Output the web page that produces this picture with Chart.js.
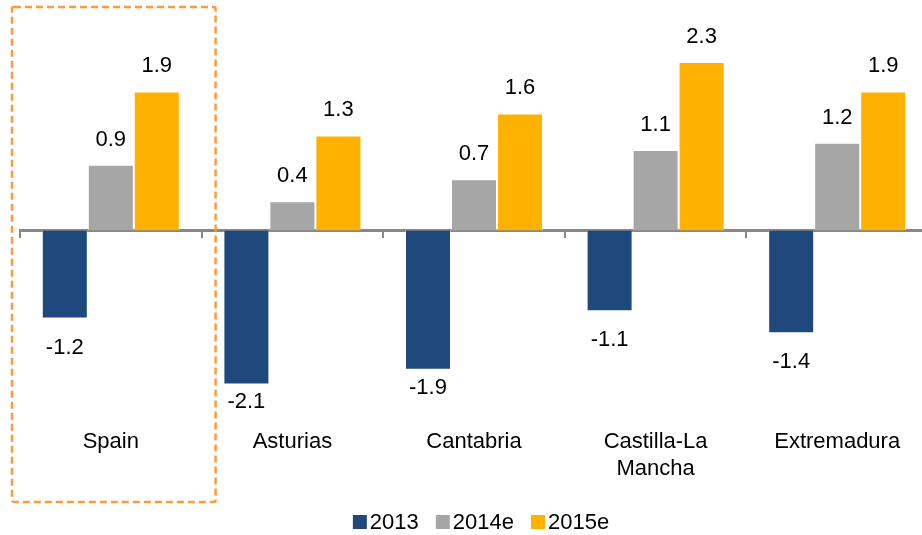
<!DOCTYPE html>
<html>
<head>
<meta charset="utf-8">
<script src="https://cdn.jsdelivr.net/npm/chart.js@4"></script>
<style>
    html, body { margin: 0; padding: 0; background: #fff; overflow: hidden; }
    .chart-wrap { width: 928px; height: 535px; position: relative; }
</style>
</head>
<body>
<div class="chart-wrap"><canvas id="barChart"></canvas></div>
<script>
'use strict';

// Data
const regions = ['Spain', 'Asturias', 'Cantabria', ['Castilla-La', 'Mancha'], 'Extremadura'];
const seriesNames = ['2013', '2014e', '2015e'];
const values2013 = [-1.2, -2.1, -1.9, -1.1, -1.4];
const values2014e = [0.9, 0.4, 0.7, 1.1, 1.2];
const values2015e = [1.9, 1.3, 1.6, 2.3, 1.9];

(function () {
    // Color Variables
    const blueColor = '#1F497D',
        greyColor = '#A6A6A6',
        orangeColor = '#FFB100',
        axisColor = '#878787',
        boxColor = '#F99B3E',
        textColor = '#000000';

    const fontFamily = '"Liberation Sans", Arial, sans-serif';

    // Value labels above / below each bar
    // (labels under the two deepest bars sit closer, as in the source)
    const valueLabels = {
        id: 'valueLabels',
        afterDatasetsDraw(chart) {
            const ctx = chart.ctx;
            const tightBelow = { 1: 17, 2: 18 };
            ctx.save();
            ctx.font = '22px ' + fontFamily;
            ctx.fillStyle = textColor;
            ctx.textAlign = 'center';
            ctx.textBaseline = 'middle';
            chart.data.datasets.forEach(function (ds, i) {
                chart.getDatasetMeta(i).data.forEach(function (bar, j) {
                    const v = ds.data[j];
                    const below = tightBelow[j] !== undefined ? tightBelow[j] : 29;
                    const y = v >= 0 ? bar.y - 25 : bar.y + below;
                    ctx.fillText(v.toFixed(1), bar.x, y);
                });
            });
            ctx.restore();
        }
    };

    // Dashed highlight around the first category
    const highlightBox = {
        id: 'highlightBox',
        afterDraw(chart) {
            const x = chart.scales.x;
            const half = (x.getPixelForValue(1) - x.getPixelForValue(0)) / 2;
            const left = x.getPixelForValue(0) - half - 8;
            const right = x.getPixelForValue(0) + half + 14;
            const ctx = chart.ctx;
            ctx.save();
            ctx.strokeStyle = boxColor;
            ctx.lineWidth = 2.5;
            ctx.setLineDash([7, 4]);
            ctx.beginPath();
            ctx.roundRect(left, 7, right - left, 495, 2);
            ctx.stroke();
            ctx.restore();
        }
    };

    // Legend with small gap between swatch and text
    const bottomLegend = {
        id: 'bottomLegend',
        afterDraw(chart) {
            const ctx = chart.ctx;
            const box = 14, gap = 3, itemGap = 17;
            ctx.save();
            ctx.font = '22px ' + fontFamily;
            const items = chart.data.datasets.map(function (ds) {
                return { text: ds.label, color: ds.backgroundColor, w: ctx.measureText(ds.label).width };
            });
            let total = 0;
            items.forEach(function (it, i) {
                total += box + gap + it.w + (i < items.length - 1 ? itemGap : 0);
            });
            const area = chart.chartArea;
            let cx = (area.left + area.right) / 2 + 7 - total / 2;
            const cy = 522;
            ctx.textBaseline = 'middle';
            ctx.textAlign = 'left';
            items.forEach(function (it) {
                ctx.fillStyle = it.color;
                ctx.fillRect(cx, cy - box / 2, box, box);
                ctx.fillStyle = textColor;
                ctx.fillText(it.text, cx + box + gap, cy + 1);
                cx += box + gap + it.w + itemGap;
            });
            ctx.restore();
        }
    };

    const barChart = document.getElementById('barChart');
    if (barChart) {
        new Chart(barChart, {
            type: 'bar',
            data: {
                labels: regions,
                datasets: [
                    { label: seriesNames[0], data: values2013, backgroundColor: blueColor },
                    { label: seriesNames[1], data: values2014e, backgroundColor: greyColor },
                    { label: seriesNames[2], data: values2015e, backgroundColor: orangeColor }
                ].map(function (ds) {
                    return Object.assign(ds, {
                        xAxisID: 'x',
                        yAxisID: 'y',
                        borderColor: 'rgba(255,255,255,0.45)',
                        borderWidth: 1,
                        categoryPercentage: 0.76,
                        barPercentage: 1
                    });
                })
            },
            options: {
                responsive: true,
                maintainAspectRatio: false,
                animation: false,
                layout: {
                    padding: { left: 20, right: 0, top: 20, bottom: 45 }
                },
                plugins: {
                    legend: { display: false },
                    tooltip: { enabled: false }
                },
                scales: {
                    x: {
                        position: 'bottom',
                        grid: { display: false },
                        border: { display: false },
                        ticks: {
                            color: textColor,
                            padding: 8,
                            maxRotation: 0,
                            autoSkip: false,
                            font: { family: fontFamily, size: 22, lineHeight: 27 / 22 }
                        }
                    },
                    xz: {
                        type: 'category',
                        position: { y: 0 },
                        offset: true,
                        z: 1,
                        grid: {
                            drawOnChartArea: false,
                            color: axisColor,
                            lineWidth: 2,
                            tickLength: 6
                        },
                        border: { display: true, color: axisColor, width: 3 },
                        ticks: { display: false }
                    },
                    y: {
                        display: false,
                        min: -2.476,
                        max: 2.875
                    }
                }
            },
            plugins: [valueLabels, highlightBox, bottomLegend]
        });
    }
})();
</script>
</body>
</html>
